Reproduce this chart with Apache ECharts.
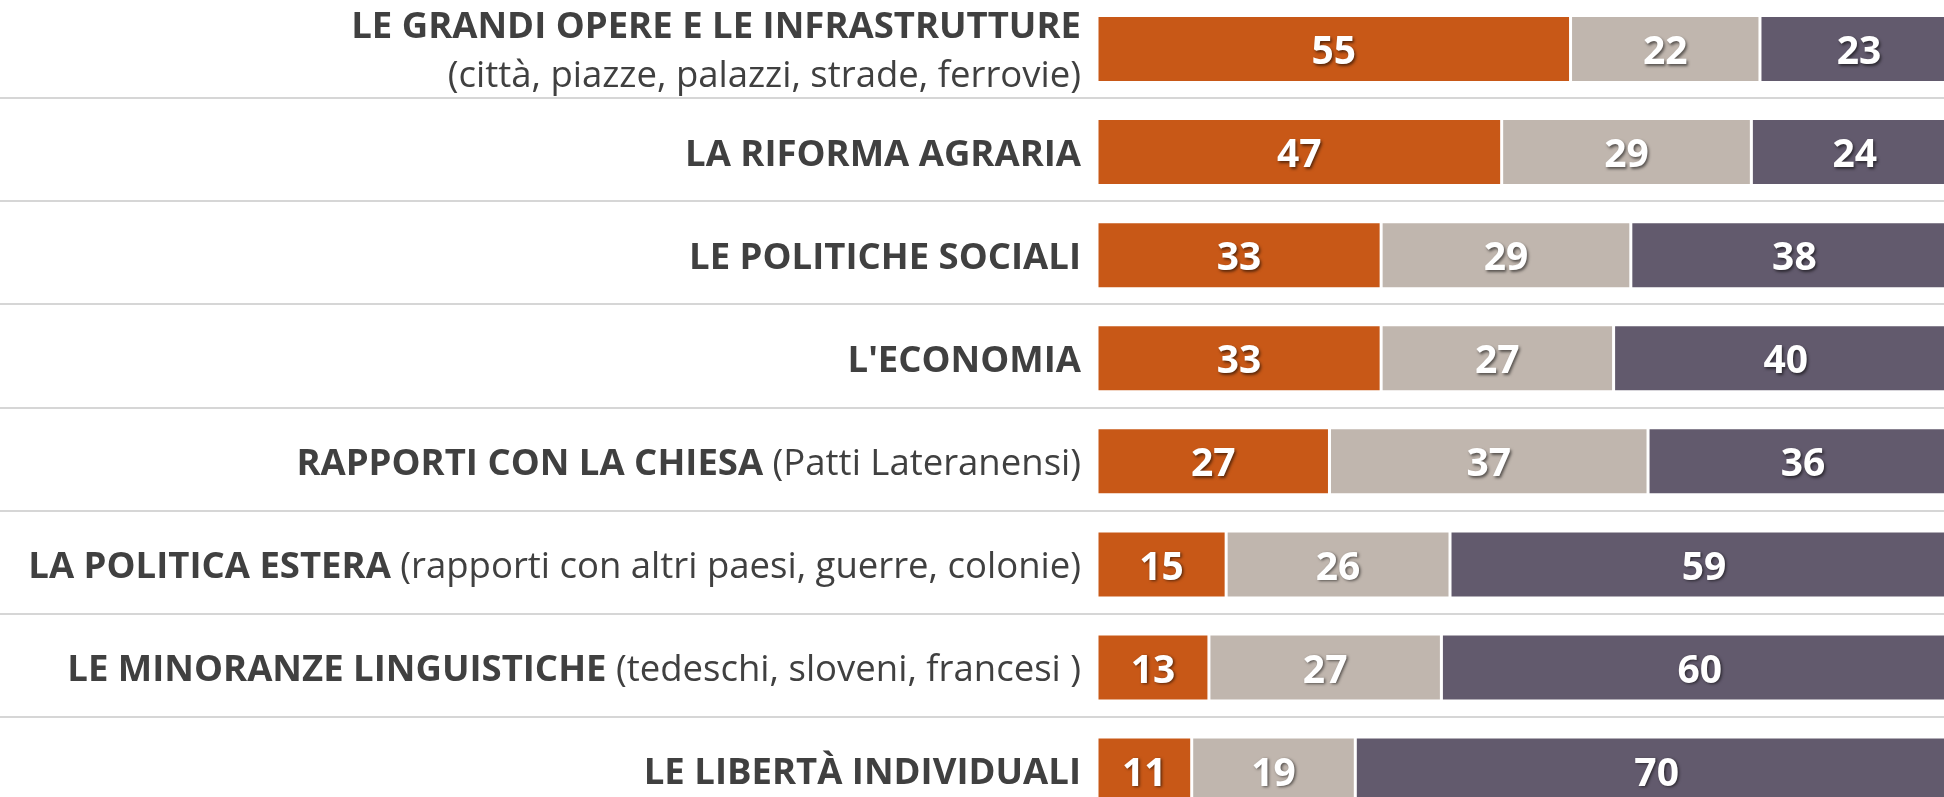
<!DOCTYPE html>
<html>
<head>
<meta charset="utf-8">
<script src="https://cdn.jsdelivr.net/npm/echarts@6/dist/echarts.min.js"></script>
<style>
  html, body { margin: 0; padding: 0; background: #fff; }
  #chart { width: 1944px; height: 797px; }
</style>
</head>
<body>
<div id="chart"></div>
<script>
const categories = [
    'LE GRANDI OPERE E LE INFRASTRUTTURE',
    'LA RIFORMA AGRARIA',
    'LE POLITICHE SOCIALI',
    "L'ECONOMIA",
    'RAPPORTI CON LA CHIESA',
    'LA POLITICA ESTERA',
    'LE MINORANZE LINGUISTICHE',
    'LE LIBERTÀ INDIVIDUALI'
];
const notes = [
    '(città, piazze, palazzi, strade, ferrovie)',
    '',
    '',
    '',
    '(Patti Lateranensi)',
    '(rapporti con altri paesi, guerre, colonie)',
    '(tedeschi, sloveni, francesi )',
    ''
];
const positive = [55, 47, 33, 33, 27, 15, 13, 11];
const neutral = [22, 29, 29, 27, 37, 26, 27, 19];
const negative = [23, 24, 38, 40, 36, 59, 60, 70];

const FONT = 'Open Sans';
const TEXT = '#404040';
// 8 rows, ~103 px each; the last row runs past the bottom edge
const ROWS_HEIGHT = 824.6;

const segLabel = {
    show: true,
    position: 'inside',
    offset: [0, 4],
    color: '#fff',
    fontFamily: FONT,
    fontWeight: 'bold',
    fontSize: 39,
    textShadowColor: 'rgba(0,0,0,0.55)',
    textShadowBlur: 3,
    textShadowOffsetX: 1.5,
    textShadowOffsetY: 1.5
};

function seg(name, data, color) {
    return {
        name,
        type: 'bar',
        stack: 'all',
        xAxisIndex: 1,
        yAxisIndex: 1,
        barWidth: 67,
        data,
        itemStyle: { color, borderColor: '#fff', borderWidth: 1.5 },
        label: segLabel,
        silent: true
    };
}

const chart = echarts.init(document.getElementById('chart'));

chart.setOption({
    animation: false,
    backgroundColor: '#fff',
    grid: [
        // full-width grid, only for the row separators
        { left: 0, right: 0, top: -5, height: ROWS_HEIGHT, outerBoundsMode: 'none' },
        // the bars run a little past the right edge
        { left: 1097, right: -14, top: -2.5, height: ROWS_HEIGHT, outerBoundsMode: 'none' }
    ],
    xAxis: [
        { gridIndex: 0, type: 'value', min: 0, max: 1, show: false },
        { gridIndex: 1, type: 'value', min: 0, max: 100, show: false }
    ],
    yAxis: [
        {
            gridIndex: 0,
            type: 'category',
            inverse: true,
            data: categories,
            axisLine: { show: false },
            axisTick: { show: false },
            axisLabel: { show: false },
            splitLine: { show: true, lineStyle: { color: '#c8c8c8', width: 1.5 } }
        },
        {
            gridIndex: 1,
            type: 'category',
            inverse: true,
            data: categories,
            axisLine: { show: false },
            axisTick: { show: false },
            splitLine: { show: false },
            axisLabel: {
                margin: 16,
                align: 'right',
                padding: [7, 0, 0, 0],
                formatter: (value, idx) => {
                    if (!notes[idx]) return '{b|' + value + '}';
                    if (idx === 0) return '{b|' + value + '}\n{n|' + notes[idx] + '}';
                    return '{b|' + value + '}{n| ' + notes[idx] + '}';
                },
                rich: {
                    b: { fontFamily: FONT, fontWeight: 'bold', fontSize: 36.5, color: TEXT, lineHeight: 49, align: 'right' },
                    n: { fontFamily: FONT, fontWeight: 'normal', fontSize: 36.5, color: TEXT, lineHeight: 49, align: 'right' }
                }
            }
        }
    ],
    series: [
        seg('Positivo', positive, '#c85817'),
        seg('Neutro', neutral, '#c0b6ae'),
        seg('Negativo', negative, '#625a6d')
    ]
});
</script>
</body>
</html>
